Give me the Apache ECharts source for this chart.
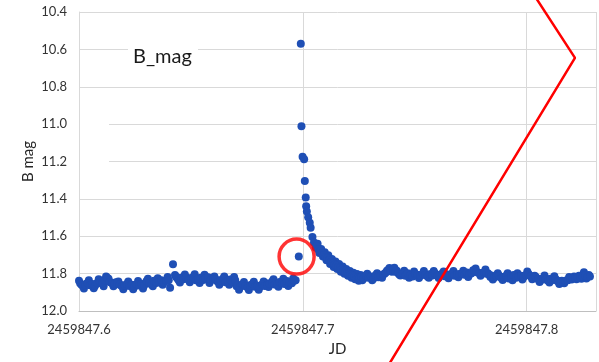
<!DOCTYPE html>
<html>
<head>
<meta charset="utf-8">
<script src="https://cdn.jsdelivr.net/npm/echarts@6/dist/echarts.min.js"></script>
<style>
  html, body { margin: 0; padding: 0; background: #fff; }
  #chart { width: 599px; height: 362px; }
</style>
</head>
<body>
<div id="chart"></div>
<script>
// Light curve of B-band magnitude; time given as offsets from JD 2459847.6 in units of 1e-4 day.
// Observations come from two interleaved frame sets (A and B).
const JD_BASE = 2459847.6;

const jdOffsetA = [
  0, 11, 22, 33, 44, 55, 66, 77,
  88, 99, 110, 121, 132, 143, 154, 165,
  176, 187, 198, 209, 220, 231, 242, 253, 264, 275,
  286, 297, 308, 319, 330, 341, 352, 363, 374, 385, 396,
  407, 420,
  429, 440, 451, 462, 473, 484, 495, 506, 517, 528, 539, 550, 561, 572, 583, 594,
  605, 616, 627, 638, 649, 660, 671, 682, 693,
  704, 715, 726, 737, 748, 759, 770, 781, 792, 803, 814, 825,
  836, 847, 858, 869, 880, 891, 902, 913, 924, 935, 946, 957, 968,
  982, 991, 994, 999, 1006, 1009, 1013, 1015, 1018, 1024, 1031, 1035, 1043, 1050,
  1058, 1066, 1074, 1082, 1090, 1098, 1106, 1114, 1122, 1130, 1138, 1146, 1154,
  1162, 1170, 1178, 1186, 1194, 1202, 1210, 1218, 1226, 1234, 1242, 1250, 1258,
  1266, 1277, 1288, 1299, 1310, 1321, 1332, 1343, 1354, 1365, 1376, 1387, 1398,
  1409, 1420, 1431, 1442, 1453, 1464, 1475, 1486, 1497, 1508, 1519, 1530, 1541,
  1552, 1563, 1574, 1585, 1596, 1607, 1618, 1629, 1640, 1651, 1662, 1673, 1684,
  1695, 1706, 1717, 1728, 1739, 1750, 1761, 1772, 1783, 1794, 1805, 1816, 1827,
  1838, 1849, 1860, 1871, 1882, 1893, 1904, 1915, 1926, 1937, 1948, 1959, 1970,
  1981, 1992, 2003, 2014, 2025, 2036, 2047, 2058, 2069, 2080, 2091, 2102, 2113,
  2124, 2135, 2146, 2157, 2168, 2179, 2190, 2201, 2212, 2223, 2234, 2245, 2256,
  2267, 2278
];

const magA = [
  11.838, 11.860, 11.880, 11.856, 11.836, 11.858, 11.878, 11.855,
  11.830, 11.850, 11.868, 11.815, 11.828, 11.848, 11.868, 11.846,
  11.842, 11.862, 11.884, 11.864, 11.842, 11.860, 11.884, 11.862, 11.840, 11.860,
  11.880, 11.850, 11.828, 11.848, 11.868, 11.845, 11.825, 11.842, 11.860, 11.838, 11.818,
  11.875, 11.750,
  11.808, 11.826, 11.848, 11.828, 11.805, 11.824, 11.846, 11.826, 11.804, 11.828, 11.850, 11.828, 11.806, 11.830, 11.850, 11.828,
  11.816, 11.838, 11.860, 11.838, 11.815, 11.836, 11.860, 11.840, 11.818,
  11.868, 11.886, 11.864, 11.845, 11.866, 11.888, 11.865, 11.844, 11.864, 11.886, 11.862, 11.842,
  11.852, 11.872, 11.850, 11.830, 11.850, 11.870, 11.848, 11.828, 11.848, 11.866, 11.845, 11.826, 11.835,
  11.709, 10.570, 11.011, 11.175, 11.188, 11.304, 11.392, 11.440, 11.467, 11.498, 11.528, 11.555, 11.604, 11.634,
  11.660, 11.640, 11.690, 11.668, 11.708, 11.686, 11.728, 11.702, 11.748, 11.722, 11.764, 11.735, 11.775,
  11.748, 11.790, 11.762, 11.800, 11.775, 11.812, 11.786, 11.822, 11.795, 11.830, 11.802, 11.838, 11.808,
  11.835, 11.818, 11.800, 11.818, 11.836, 11.816, 11.798, 11.815, 11.822, 11.800, 11.785, 11.770, 11.790,
  11.768, 11.785, 11.805, 11.800, 11.785, 11.805, 11.822, 11.805, 11.788, 11.806, 11.824, 11.806, 11.786,
  11.805, 11.822, 11.804, 11.786, 11.806, 11.824, 11.805, 11.788, 11.806, 11.825, 11.804, 11.786, 11.804,
  11.820, 11.802, 11.784, 11.802, 11.818, 11.800, 11.782, 11.772, 11.795, 11.812, 11.796, 11.778, 11.798,
  11.818, 11.832, 11.815, 11.798, 11.816, 11.834, 11.816, 11.798, 11.818, 11.836, 11.816, 11.798, 11.815,
  11.832, 11.812, 11.788, 11.810, 11.830, 11.812, 11.826, 11.845, 11.828, 11.810, 11.830, 11.848, 11.828,
  11.814, 11.835, 11.856, 11.838, 11.852, 11.835, 11.818, 11.832, 11.815, 11.830, 11.812, 11.828, 11.793,
  11.826, 11.808
];

const jdOffsetB = [
  5, 16, 27, 38, 49, 60, 71, 82,
  93, 104, 115, 126, 137, 148, 159, 170,
  181, 192, 203, 214, 225, 236, 247, 258, 269, 280,
  291, 302, 313, 324, 335, 346, 357, 368, 379, 390, 401,
  434, 445, 456, 467, 478, 489, 500, 511, 522, 533, 544, 555, 566, 577, 588, 599,
  610, 621, 632, 643, 654, 665, 676, 687, 698,
  709, 720, 731, 742, 753, 764, 775, 786, 797, 808, 819, 830,
  841, 852, 863, 874, 885, 896, 907, 918, 929, 940, 951, 962,
  1062, 1070, 1078, 1086, 1094, 1102, 1110, 1118, 1126, 1134, 1142, 1150, 1158,
  1166, 1174, 1182, 1190, 1198, 1206, 1214, 1222, 1230, 1238, 1246, 1254, 1262,
  1271, 1282, 1293, 1304, 1315, 1326, 1337, 1348, 1359,
  1370, 1381, 1392, 1403, 1414, 1425,
  1436, 1447, 1458, 1469, 1480, 1491, 1502, 1513, 1524, 1535, 1546, 1557, 1568,
  1579, 1590, 1601, 1612, 1623, 1634, 1645, 1656, 1667, 1678, 1689, 1700,
  1711, 1722, 1733, 1744, 1755, 1766, 1777, 1788, 1799, 1810, 1821, 1832,
  1843, 1854, 1865, 1876, 1887, 1898, 1909, 1920, 1931, 1942, 1953, 1964, 1975, 1986, 1997,
  2008, 2019, 2030, 2041, 2052, 2063, 2074, 2085, 2096, 2107, 2118, 2129,
  2140, 2151, 2162, 2173, 2184, 2195, 2206, 2217, 2228, 2239, 2250, 2261, 2272, 2283
];

const magB = [
  11.852, 11.864, 11.858, 11.850, 11.862, 11.856, 11.866, 11.850,
  11.844, 11.852, 11.835, 11.822, 11.845, 11.852, 11.855, 11.850,
  11.858, 11.868, 11.862, 11.855, 11.866, 11.860, 11.870, 11.858, 11.864, 11.856,
  11.864, 11.840, 11.852, 11.858, 11.838, 11.850, 11.845, 11.835, 11.848, 11.840, 11.836,
  11.818, 11.835, 11.822, 11.830, 11.820, 11.832, 11.825, 11.818, 11.835, 11.828, 11.822, 11.834, 11.826, 11.820, 11.836, 11.832,
  11.830, 11.845, 11.836, 11.828, 11.846, 11.838, 11.832, 11.845, 11.836,
  11.860, 11.872, 11.858, 11.866, 11.874, 11.862, 11.855, 11.870, 11.865, 11.872, 11.858, 11.866,
  11.862, 11.856, 11.842, 11.858, 11.860, 11.845, 11.852, 11.856, 11.840, 11.848, 11.852, 11.838,
  11.652, 11.672, 11.680, 11.692, 11.700, 11.712, 11.718, 11.728, 11.738, 11.745, 11.752, 11.758, 11.764,
  11.772, 11.778, 11.785, 11.790, 11.795, 11.800, 11.805, 11.810, 11.815, 11.818, 11.820, 11.822, 11.818,
  11.826, 11.810, 11.822, 11.815, 11.828, 11.808, 11.820, 11.812, 11.805,
  11.795, 11.780, 11.785, 11.778, 11.790, 11.796,
  11.810, 11.800, 11.812, 11.798, 11.808, 11.815, 11.802, 11.806, 11.812, 11.800, 11.808, 11.815, 11.804,
  11.810, 11.798, 11.812, 11.806, 11.800, 11.814, 11.805, 11.808, 11.800, 11.812, 11.806, 11.802,
  11.800, 11.806, 11.794, 11.802, 11.796, 11.784, 11.790, 11.796, 11.802, 11.792, 11.800, 11.806,
  11.810, 11.822, 11.816, 11.810, 11.824, 11.818, 11.812, 11.826, 11.815, 11.808, 11.822, 11.818, 11.812, 11.820, 11.808,
  11.800, 11.815, 11.822, 11.818, 11.830, 11.836, 11.826, 11.832, 11.838, 11.828, 11.834, 11.830,
  11.842, 11.848, 11.845, 11.840, 11.836, 11.828, 11.824, 11.822, 11.820, 11.818, 11.815, 11.810, 11.818, 11.815
];

// Axis ranges and tick steps
const xMin = 2459847.6, xMax = 2459847.831, xStep = 0.1;
const yMin = 10.4, yMax = 12.0, yStep = 0.2;

// Highlighted observation (red ring) and the red hand-drawn stroke, in data units
const ringJD = [2459847.69723];
const ringMag = [11.709];
const strokeJD = [2459847.80194, 2459847.82160, 2459847.73740];
const strokeMag = [10.2834, 10.6453, 12.3073];

const toPoints = (offsets, mags) => offsets.map((t, i) => [JD_BASE + t / 10000, mags[i]]);
const points = toPoints(jdOffsetA, magA).concat(toPoints(jdOffsetB, magB));
const ring = ringJD.map((x, i) => [x, ringMag[i]]);
const stroke = strokeJD.map((x, i) => [x, strokeMag[i]]);

const FONT = 'Lato, "Liberation Sans", sans-serif';
const GRID_COLOR = '#d9d9d9';
const LABEL_COLOR = '#333333';

const chart = echarts.init(document.getElementById('chart'), null, { renderer: 'canvas' });

chart.setOption({
  animation: false,
  backgroundColor: '#ffffff',
  title: {
    text: 'B_mag',
    left: 133,
    top: 46,
    padding: 0,
    textStyle: { fontFamily: FONT, fontSize: 20, fontWeight: 'normal', color: '#1a1a1a', lineHeight: 22 }
  },
  grid: { left: 79, right: -5, top: 12, bottom: 48, containLabel: false },
  xAxis: {
    type: 'value',
    min: xMin,
    max: xMax,
    interval: xStep,
    name: 'JD',
    nameLocation: 'middle',
    nameGap: 31,
    nameMoveOverlap: false,
    nameTextStyle: { fontFamily: FONT, fontSize: 15, color: '#262626' },
    axisLine: { show: true, onZero: false, lineStyle: { color: '#bfbfbf', width: 1 } },
    axisTick: { show: false },
    axisLabel: {
      margin: 12,
      fontFamily: FONT,
      fontSize: 13,
      color: LABEL_COLOR,
      formatter: v => {
        const r = Math.round(v * 10) / 10;
        return Math.abs(v - r) < 1e-6 ? r.toFixed(1) : '';
      }
    },
    splitLine: { show: true, lineStyle: { color: GRID_COLOR, width: 1 } }
  },
  yAxis: {
    type: 'value',
    inverse: true,
    min: yMin,
    max: yMax,
    interval: yStep,
    name: 'B mag',
    nameLocation: 'middle',
    nameRotate: 90,
    nameGap: 43,
    nameMoveOverlap: false,
    nameTextStyle: { fontFamily: FONT, fontSize: 15, color: '#262626' },
    axisLine: { show: true, lineStyle: { color: GRID_COLOR, width: 1 } },
    axisTick: { show: false },
    axisLabel: {
      margin: 12,
      fontFamily: FONT,
      fontSize: 13,
      color: LABEL_COLOR,
      formatter: v => v.toFixed(1)
    },
    splitLine: { show: true, lineStyle: { color: GRID_COLOR, width: 1 } }
  },
  graphic: [
    // white boxes behind the text labels
    { type: 'rect', z: 1, shape: { x: 128, y: 36, width: 70, height: 36 }, style: { fill: '#ffffff' } },
    { type: 'rect', z: 1, shape: { x: 80, y: 100, width: 29, height: 85 }, style: { fill: '#ffffff' } }
  ],
  series: [
    {
      type: 'scatter',
      data: points,
      symbol: 'circle',
      symbolSize: 8,
      itemStyle: { color: '#1f4fb5', opacity: 1 },
      z: 3,
      silent: true
    },
    {
      type: 'scatter',
      data: ring,
      symbol: 'circle',
      symbolSize: 35,
      itemStyle: { color: 'rgba(0,0,0,0)', borderColor: '#ff0000', borderWidth: 3.5 },
      z: 4,
      silent: true
    },
    {
      type: 'line',
      data: stroke,
      symbol: 'none',
      clip: false,
      lineStyle: { color: '#ff0000', width: 2.5 },
      z: 5,
      silent: true
    }
  ]
});
</script>
</body>
</html>
